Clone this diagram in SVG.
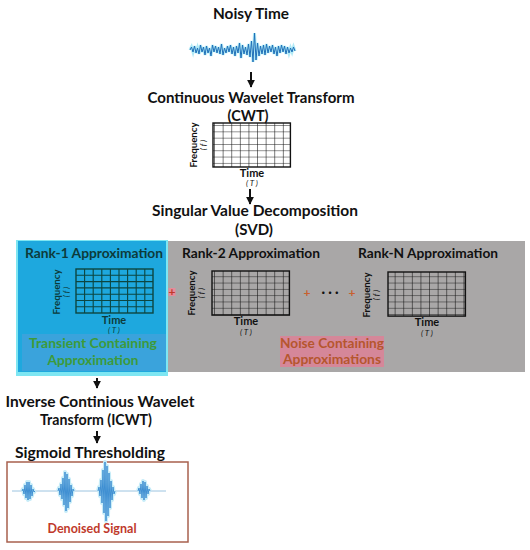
<svg xmlns="http://www.w3.org/2000/svg" width="530" height="550" viewBox="0 0 530 550">
<defs>
<style>
text{font-family:Lato,"Open Sans","Liberation Sans",sans-serif;font-weight:bold;}
.t{font-size:16px;fill:#111;text-anchor:middle;}
.r{font-size:13.5px;text-anchor:middle;}
.ax{font-size:11px;text-anchor:middle;fill:#111;}
.fq{font-size:10px;text-anchor:middle;fill:#111;}
.it{font-size:8px;font-style:italic;font-weight:normal;text-anchor:middle;fill:#111;}
.grid{fill:none;stroke:#111;stroke-width:1.4;}
.gridt{fill:none;stroke:#0d4640;stroke-width:1.4;}
.conn{stroke:#111;stroke-width:2;fill:none;marker-end:url(#ah);}
.plus{font-size:12px;fill:#c0392b;text-anchor:middle;font-weight:bold;}
</style>
<marker id="ah" viewBox="0 0 10 10" refX="9" refY="5" markerWidth="4" markerHeight="4" orient="auto" markerUnits="strokeWidth">
<path d="M0,0 L10,5 L0,10 z" fill="#111"/>
</marker>
<pattern id="gp" x="0" y="0" width="8.6" height="6.3" patternUnits="userSpaceOnUse">
<path d="M8.6,0 V6.3 M0,6.3 H8.6" stroke="#111" stroke-width="1.1" fill="none"/>
</pattern>
</defs>
<rect width="530" height="550" fill="#fff"/>

<g id="noisy-time">
<text class="t" x="251" y="19" textLength="76" lengthAdjust="spacingAndGlyphs">Noisy Time</text>
<polyline fill="none" stroke="#7fdcf0" stroke-width="3" opacity="0.6" points="190,50 191.5,47 193,52 194.5,46 196,53 197.5,48 199,54 200.5,45 202,52 203.5,47 205,55 206.5,46 208,53 209.5,48 211,56 212.5,45 214,52 215.5,46 217,53 218.5,47 220,54 221.5,44 223,55 224.5,48 226,53 227.5,46 229,52 230.5,45 232,54 233.5,47 235,56 236.5,46 238,53 239.5,43 241,58 242.5,45 244,54 245.5,47 247,55 248.5,44 250,57 251.5,41 253,62 254.5,33 256,60 257.5,43 259,56 260.5,46 262,54 263.5,45 265,55 266.5,44 268,53 269.5,46 271,52 272.5,45 274,54 275.5,47 277,56 278.5,46 280,53 281.5,45 283,52 284.5,46 286,54 287.5,47 289,53 290.5,48 292,52 293.5,47 295,51"/>
<polyline fill="none" stroke="#1f6fb8" stroke-width="1" points="190,50 191.5,47 193,52 194.5,46 196,53 197.5,48 199,54 200.5,45 202,52 203.5,47 205,55 206.5,46 208,53 209.5,48 211,56 212.5,45 214,52 215.5,46 217,53 218.5,47 220,54 221.5,44 223,55 224.5,48 226,53 227.5,46 229,52 230.5,45 232,54 233.5,47 235,56 236.5,46 238,53 239.5,43 241,58 242.5,45 244,54 245.5,47 247,55 248.5,44 250,57 251.5,41 253,62 254.5,33 256,60 257.5,43 259,56 260.5,46 262,54 263.5,45 265,55 266.5,44 268,53 269.5,46 271,52 272.5,45 274,54 275.5,47 277,56 278.5,46 280,53 281.5,45 283,52 284.5,46 286,54 287.5,47 289,53 290.5,48 292,52 293.5,47 295,51"/>
</g>

<g id="cwt">
<text class="t" x="251" y="103" textLength="207" lengthAdjust="spacingAndGlyphs">Continuous Wavelet Transform</text>
<text class="t" x="248" y="121" textLength="41" lengthAdjust="spacingAndGlyphs">(CWT)</text>
<rect x="213" y="123" width="77.4" height="44" fill="url(#gp)"/>
<rect x="213" y="123" width="77.4" height="44" class="grid"/>
<text class="fq" transform="translate(197,145) rotate(-90)" textLength="45" lengthAdjust="spacingAndGlyphs">Frequency</text>
<text class="it" transform="translate(206,145) rotate(-90)">( f )</text>
<text class="ax" x="252" y="177">Time</text>
<text class="it" x="252" y="186">( T )</text>
</g>

<g id="svd">
<text class="t" x="255" y="216" textLength="206" lengthAdjust="spacingAndGlyphs">Singular Value Decomposition</text>
<text class="t" x="254" y="235" textLength="38" lengthAdjust="spacingAndGlyphs">(SVD)</text>
</g>

<g id="panel">
<rect x="167" y="241" width="358" height="131" fill="#a9a7a7"/>
<rect x="16" y="240" width="152" height="136" fill="#7ee6f2"/>
<rect x="18" y="241" width="148" height="131" fill="#1ea8de"/>
<rect x="22" y="334" width="144" height="37" fill="#6f9ada" opacity="0.35"/>
</g>

<g id="rank-1">
<text class="r" x="94" y="258" fill="#0d3b3a" textLength="138" lengthAdjust="spacingAndGlyphs">Rank-1 Approximation</text>
<g fill="none" stroke="#0d4640" stroke-width="1.1">
<path d="M76,275.3H153 M76,281.6H153 M76,287.9H153 M76,294.2H153 M76,300.5H153 M76,306.8H153 M84.6,269V313 M93.2,269V313 M101.8,269V313 M110.4,269V313 M119,269V313 M127.6,269V313 M136.2,269V313 M144.8,269V313"/>
</g>
<rect x="76" y="269" width="77" height="44" class="gridt"/>
<text class="fq" transform="translate(60,292) rotate(-90)" textLength="45" lengthAdjust="spacingAndGlyphs" style="fill:#0d3b3a">Frequency</text>
<text class="it" transform="translate(69,292) rotate(-90)" style="fill:#0d3b3a">( f )</text>
<text class="ax" x="114" y="324" style="fill:#0d3b3a">Time</text>
<text class="it" x="114" y="333" style="fill:#0d3b3a">( T )</text>
<text x="93" y="348" style="font-size:13.5px;text-anchor:middle;fill:#3d9a3a" textLength="128" lengthAdjust="spacingAndGlyphs">Transient Containing</text>
<text x="93" y="365" style="font-size:13.5px;text-anchor:middle;fill:#3d9a3a" textLength="91" lengthAdjust="spacingAndGlyphs">Approximation</text>
</g>

<g id="rank-2">
<text class="r" x="251" y="258" fill="#111" textLength="138" lengthAdjust="spacingAndGlyphs">Rank-2 Approximation</text>
<rect x="212" y="271" width="77.4" height="44.1" fill="url(#gp)"/>
<rect x="212" y="271" width="77.4" height="44.1" class="grid"/>
<text class="fq" transform="translate(195,293) rotate(-90)" textLength="45" lengthAdjust="spacingAndGlyphs">Frequency</text>
<text class="it" transform="translate(204,293) rotate(-90)">( f )</text>
<text class="ax" x="246" y="325">Time</text>
<text class="it" x="246" y="335">( T )</text>
</g>

<g id="rank-n">
<text class="r" x="428" y="258" fill="#111" textLength="140" lengthAdjust="spacingAndGlyphs">Rank-N Approximation</text>
<rect x="388" y="272" width="77.4" height="44.1" fill="url(#gp)"/>
<rect x="388" y="272" width="77.4" height="44.1" class="grid"/>
<text class="fq" transform="translate(370,295) rotate(-90)" textLength="45" lengthAdjust="spacingAndGlyphs">Frequency</text>
<text class="it" transform="translate(379,295) rotate(-90)">( f )</text>
<text class="ax" x="427" y="326">Time</text>
<text class="it" x="427" y="336">( T )</text>
</g>

<g id="sum-operators">
<rect x="168.5" y="288" width="7" height="8" fill="#e58c9a"/>
<text class="plus" x="172" y="296">+</text>
<text class="plus" x="307" y="297" style="fill:#c8602e">+</text>
<text x="330" y="297" style="font-size:13px;text-anchor:middle;fill:#111">· · ·</text>
<text class="plus" x="352" y="297" style="fill:#c8602e">+</text>
</g>

<g id="noise-label">
<rect x="280" y="336" width="104" height="31" fill="#e07f96" opacity="0.8"/>
<text x="332" y="348" style="font-size:13.5px;text-anchor:middle;fill:#b5562e" textLength="104" lengthAdjust="spacingAndGlyphs">Noise Containing</text>
<text x="332" y="364" style="font-size:13.5px;text-anchor:middle;fill:#b5562e" textLength="98" lengthAdjust="spacingAndGlyphs">Approximations</text>
</g>

<g id="icwt">
<text class="t" x="100" y="407" textLength="189" lengthAdjust="spacingAndGlyphs">Inverse Continious Wavelet</text>
<text class="t" x="96" y="425" textLength="112" lengthAdjust="spacingAndGlyphs">Transform (ICWT)</text>
</g>

<g id="sigmoid">
<text class="t" x="90" y="458" textLength="150" lengthAdjust="spacingAndGlyphs">Sigmoid Thresholding</text>
</g>

<g id="denoised">
<rect x="7" y="462" width="181" height="80" fill="#fff" stroke="#a8604e" stroke-width="1.5"/>
<line x1="12" y1="491" x2="166" y2="491" stroke="#9cc4e0" stroke-width="1"/>
<g fill="none" stroke="#c6ecf8" stroke-width="4" stroke-linejoin="round">
<polyline points="22,491 23,489 24,494 25,485 26,498 27,482 28,500 29,482 30,499 31,485 32,496 33,489 34,492 35,491"/>
<polyline points="58,491 59,488 60,495 61,484 62,499 63,478 64,505 65,472 66,511 67,474 68,508 69,479 70,502 71,485 72,496 73,489 74,491"/>
<polyline points="98,491 99,487 100,496 101,480 102,503 103,470 104,513 105,462 106,521 107,466 108,516 109,473 110,508 111,481 112,500 113,487 114,494 115,491"/>
<polyline points="138,491 139,488 140,494 141,484 142,498 143,481 144,500 145,482 146,498 147,486 148,494 149,489 150,491"/>
</g>
<g fill="none" stroke="#3f8fd2" stroke-width="1">
<polyline points="22,491 23,489 24,494 25,485 26,498 27,482 28,500 29,482 30,499 31,485 32,496 33,489 34,492 35,491"/>
<polyline points="58,491 59,488 60,495 61,484 62,499 63,478 64,505 65,472 66,511 67,474 68,508 69,479 70,502 71,485 72,496 73,489 74,491"/>
<polyline points="98,491 99,487 100,496 101,480 102,503 103,470 104,513 105,462 106,521 107,466 108,516 109,473 110,508 111,481 112,500 113,487 114,494 115,491"/>
<polyline points="138,491 139,488 140,494 141,484 142,498 143,481 144,500 145,482 146,498 147,486 148,494 149,489 150,491"/>
</g>
<text x="92" y="533" style="font-size:13.5px;text-anchor:middle;fill:#c0392b" textLength="89" lengthAdjust="spacingAndGlyphs">Denoised Signal</text>
</g>

<g id="connectors">
<line class="conn" x1="251" y1="72" x2="251" y2="87"/>
<line class="conn" x1="250" y1="189" x2="250" y2="204"/>
<line class="conn" x1="97" y1="378" x2="97" y2="388"/>
<line class="conn" x1="97" y1="431" x2="97" y2="443"/>
</g>
</svg>
